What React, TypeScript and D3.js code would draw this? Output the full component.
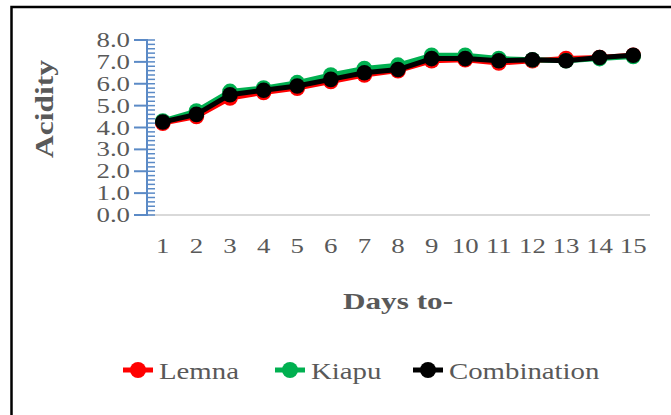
import React from 'react';
import * as d3 from 'd3';

const days = ['1', '2', '3', '4', '5', '6', '7', '8', '9', '10', '11', '12', '13', '14', '15'];
const lemna = [4.2, 4.5, 5.35, 5.6, 5.8, 6.1, 6.4, 6.6, 7.05, 7.1, 6.95, 7.05, 7.15, 7.2, 7.3];
const kiapu = [4.3, 4.75, 5.65, 5.8, 6.05, 6.4, 6.7, 6.85, 7.3, 7.3, 7.15, 7.1, 7.05, 7.15, 7.25];
const combination = [4.25, 4.6, 5.5, 5.7, 5.9, 6.2, 6.5, 6.65, 7.15, 7.15, 7.05, 7.1, 7.05, 7.2, 7.3];
const seriesNames = ['Lemna', 'Kiapu', 'Combination'];
const seriesColors = ['#ff0000', '#00b050', '#000000'];
const yMax = 8;

const FONT = 'Liberation Serif, Tinos, Times New Roman, serif';
const TEXT = '#595959';

export default function App() {
  const x = d3.scaleBand<string>().domain(days).range([146, 650]);
  const y = d3.scaleLinear().domain([0, yMax]).range([215, 40]);
  const cx = (d: string) => (x(d) as number) + x.bandwidth() / 2;
  const line = d3
    .line<number>()
    .x((_, i) => cx(days[i]))
    .y((v) => y(v));
  const series = [lemna, kiapu, combination];
  const majors = d3.range(0, yMax + 0.001, 1);
  const minors = d3.range(0, yMax + 0.001, 0.2);
  const legendX = [138, 290, 428];

  return (
    <svg
      width={671}
      height={415}
      style={{ position: 'absolute', left: 0, top: 0, background: '#fff' }}
    >
      <rect x={0} y={0} width={671} height={415} fill="#fff" />
      <path d="M11.5,415 V7 H671" fill="none" stroke="#000" strokeWidth={2.5} />

      {/* x baseline */}
      <line x1={147} x2={650} y1={y(0)} y2={y(0)} stroke="#d9d9d9" strokeWidth={2} />

      {/* y axis */}
      <line x1={147} x2={147} y1={y(yMax) - 1} y2={y(0) + 1} stroke="#5b8ac6" strokeWidth={2} />
      {majors.map((v) => (
        <line key={'M' + v} x1={134} x2={147} y1={y(v)} y2={y(v)} stroke="#5b8ac6" strokeWidth={2} />
      ))}
      {minors.map((v, i) => (
        <line key={'m' + i} x1={147} x2={155} y1={y(v)} y2={y(v)} stroke="#5b8ac6" strokeWidth={1.5} />
      ))}
      {majors.map((v) => (
        <text
          key={'t' + v}
          transform={`translate(130,${y(v) + 7}) scale(1.22,1)`}
          textAnchor="end"
          fontFamily={FONT}
          fontSize={22}
          fill={TEXT}
        >
          {v.toFixed(1)}
        </text>
      ))}

      {/* x tick labels */}
      {days.map((d) => (
        <text
          key={'x' + d}
          transform={`translate(${cx(d)},253) scale(1.22,1)`}
          textAnchor="middle"
          fontFamily={FONT}
          fontSize={22}
          fill={TEXT}
        >
          {d}
        </text>
      ))}

      {/* axis titles */}
      <text
        transform="translate(398,309) scale(1.3,1)"
        textAnchor="middle"
        fontFamily={FONT}
        fontSize={24}
        fontWeight="bold"
        fill={TEXT}
      >
        Days to-
      </text>
      <text
        transform="translate(53,109) rotate(-90) scale(1.26,1)"
        textAnchor="middle"
        fontFamily={FONT}
        fontSize={25}
        fontWeight="bold"
        fill={TEXT}
      >
        Acidity
      </text>

      {/* series */}
      {series.map((vals, si) => (
        <g key={'s' + si}>
          <path d={line(vals) || ''} fill="none" stroke={seriesColors[si]} strokeWidth={5} strokeLinejoin="round" />
          {vals.map((v, i) => (
            <circle key={i} cx={cx(days[i])} cy={y(v)} r={7.8} fill={seriesColors[si]} />
          ))}
        </g>
      ))}

      {/* legend */}
      {seriesNames.map((n, i) => (
        <g key={'l' + n}>
          <line x1={legendX[i] - 15} x2={legendX[i] + 15} y1={370} y2={370} stroke={seriesColors[i]} strokeWidth={5} />
          <circle cx={legendX[i]} cy={370} r={8} fill={seriesColors[i]} />
          <text
            transform={`translate(${legendX[i] + 21},379) scale(1.2,1)`}
            fontFamily={FONT}
            fontSize={24}
            fill={TEXT}
          >
            {n}
          </text>
        </g>
      ))}
    </svg>
  );
}
